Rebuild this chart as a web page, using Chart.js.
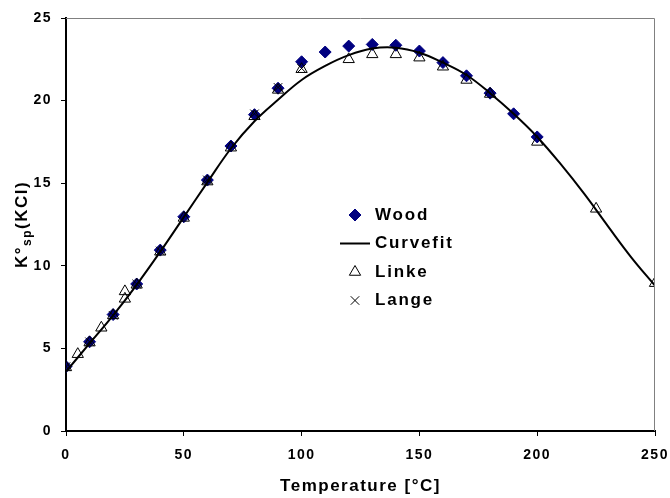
<!DOCTYPE html>
<html>
<head>
<meta charset="utf-8">
<script src="https://cdn.jsdelivr.net/npm/chart.js@4.4.1/dist/chart.umd.min.js"></script>
<style>
    body { margin: 0; background: #fff; }
    #wrap { width: 670px; height: 498px; }
</style>
</head>
<body>
<div id="wrap"><canvas id="chart" width="670" height="498"></canvas></div>
<script>
// Wood data (diamonds)
const woodT = [0, 10, 20, 30, 40, 50, 60, 70, 80, 90, 100, 110, 120, 130, 140, 150, 160, 170, 180, 190, 200];
const woodK = [3.9, 5.4, 7.05, 8.9, 10.95, 12.97, 15.19, 17.25, 19.15, 20.75, 22.35, 22.94, 23.3, 23.4, 23.35, 23.0, 22.3, 21.5, 20.45, 19.2, 17.8];

// Curvefit (solid line)
const fitT = [0, 10, 20, 30, 40, 50, 60, 70, 80, 90, 100, 110, 120, 130, 140, 150, 160, 170, 180, 190, 200, 210, 220, 230, 240, 250];
const fitK = [3.6, 5.3, 7.0, 8.85, 10.85, 12.95, 15.05, 17.1, 18.75, 20.05, 21.25, 22.1, 22.75, 23.15, 23.2, 22.9, 22.3, 21.55, 20.45, 19.2, 17.8, 16.15, 14.35, 12.4, 10.5, 8.8];

// Linke data (open triangles)
const linkeT = [0, 5, 10, 15, 20, 25, 25, 30, 40, 50, 60, 70, 80, 90, 100, 120, 130, 140, 150, 160, 170, 180, 200, 225, 250];
const linkeK = [3.85, 4.65, 5.35, 6.25, 7.0, 8.0, 8.45, 8.85, 10.85, 12.9, 15.1, 17.15, 19.05, 20.65, 21.9, 22.5, 22.8, 22.8, 22.6, 22.05, 21.25, 20.4, 17.5, 13.45, 8.95];

// Lange data (crosses)
const langeT = [0, 10, 20, 30, 40, 60, 80, 90, 100];
const langeK = [3.9, 5.4, 7.0, 8.9, 10.9, 15.2, 19.2, 20.8, 21.95];

const xTicks = [0, 50, 100, 150, 200, 250];
const yTicks = [0, 5, 10, 15, 20, 25];

const FONT = '"Liberation Sans", Arial, sans-serif';
const pts = (xs, ys) => xs.map((x, i) => ({ x: x, y: ys[i] }));

// Letter spacing for all text drawn on the canvas
const spacingPlugin = {
    id: 'spacing',
    beforeLayout(chart) { chart.ctx.letterSpacing = '1.5px'; },
    beforeDraw(chart) { chart.ctx.letterSpacing = '1.5px'; }
};

// Thin grey top and right frame
const framePlugin = {
    id: 'frame',
    afterDraw(chart) {
        const { ctx, chartArea: a } = chart;
        ctx.save();
        ctx.strokeStyle = '#808080';
        ctx.lineWidth = 1;
        ctx.beginPath();
        ctx.moveTo(a.left, a.top + 0.5);
        ctx.lineTo(a.right - 0.5, a.top + 0.5);
        ctx.lineTo(a.right - 0.5, a.bottom);
        ctx.stroke();
        ctx.restore();
    }
};

function marker(ctx, ds, x, y) {
    const opts = {
        pointStyle: ds.pointStyle,
        radius: ds.pointRadius,
        rotation: 0,
        borderWidth: ds.pointBorderWidth
    };
    ctx.fillStyle = ds.pointBackgroundColor;
    ctx.strokeStyle = ds.pointBorderColor;
    ctx.lineWidth = ds.pointBorderWidth;
    Chart.helpers.drawPoint(ctx, opts, x, y);
}

// Legend inside the plot
const legendPlugin = {
    id: 'innerLegend',
    afterDraw(chart) {
        const { ctx, chartArea: a } = chart;
        const symX = a.left + 289;
        const textX = a.left + 309;
        ctx.save();
        ctx.font = 'bold 17px ' + FONT;
        ctx.letterSpacing = '1.8px';
        ctx.textBaseline = 'middle';
        ctx.textAlign = 'left';
        chart.data.datasets.forEach((ds, i) => {
            const y = a.top + 197 + i * 28.5;
            if (ds.showLine) {
                ctx.strokeStyle = ds.borderColor;
                ctx.lineWidth = ds.borderWidth;
                ctx.beginPath();
                ctx.moveTo(symX - 15, y);
                ctx.lineTo(symX + 15, y);
                ctx.stroke();
            } else {
                marker(ctx, ds, symX, y);
            }
            ctx.fillStyle = '#000';
            ctx.fillText(ds.label, textX, y);
        });
        ctx.restore();
    }
};

// Y axis title with subscript: K°sp(KCl)
const yTitlePlugin = {
    id: 'yTitle',
    afterDraw(chart) {
        const { ctx, chartArea: a } = chart;
        const parts = [
            { t: 'K°', size: 17, dy: 0 },
            { t: 'sp', size: 12, dy: 4 },
            { t: '(KCl)', size: 17, dy: 0 }
        ];
        ctx.save();
        ctx.letterSpacing = '1.5px';
        ctx.fillStyle = '#000';
        ctx.textBaseline = 'alphabetic';
        ctx.textAlign = 'left';
        let total = 0;
        parts.forEach(p => {
            ctx.font = 'bold ' + p.size + 'px ' + FONT;
            p.w = ctx.measureText(p.t).width;
            total += p.w;
        });
        const cy = (a.top + a.bottom) / 2;
        ctx.translate(27, cy + total / 2);
        ctx.rotate(-Math.PI / 2);
        let x = 0;
        parts.forEach(p => {
            ctx.font = 'bold ' + p.size + 'px ' + FONT;
            ctx.fillText(p.t, x, p.dy);
            x += p.w;
        });
        ctx.restore();
    }
};

const tickFont = { family: FONT, size: 14, weight: 'bold' };

new Chart(document.getElementById('chart'), {
    type: 'scatter',
    data: {
        datasets: [
            {
                label: 'Wood',
                data: pts(woodT, woodK),
                showLine: false,
                pointStyle: 'rectRot',
                pointRadius: 6,
                pointBackgroundColor: '#000080',
                pointBorderColor: '#000080',
                pointBorderWidth: 1,
                order: 4
            },
            {
                label: 'Curvefit',
                data: pts(fitT, fitK),
                showLine: true,
                borderColor: '#000',
                borderWidth: 2,
                tension: 0.4,
                pointRadius: 0,
                order: 3
            },
            {
                label: 'Linke',
                data: pts(linkeT, linkeK),
                showLine: false,
                pointStyle: 'triangle',
                pointRadius: 6.5,
                pointBackgroundColor: 'rgba(0,0,0,0)',
                pointBorderColor: '#000',
                pointBorderWidth: 1,
                order: 2
            },
            {
                label: 'Lange',
                data: pts(langeT, langeK),
                showLine: false,
                pointStyle: 'crossRot',
                pointRadius: 6,
                pointBackgroundColor: '#000',
                pointBorderColor: '#000',
                pointBorderWidth: 1,
                order: 1
            }
        ]
    },
    options: {
        responsive: false,
        devicePixelRatio: 1,
        animation: false,
        layout: { padding: { left: 0, top: 18, right: 15, bottom: 0 } },
        plugins: {
            legend: { display: false },
            tooltip: { enabled: false }
        },
        scales: {
            x: {
                type: 'linear',
                min: 0,
                max: 250,
                afterBuildTicks: s => { s.ticks = xTicks.map(v => ({ value: v })); },
                afterFit: s => { s.height = 67; s.paddingLeft = 0; s.paddingRight = 0; },
                ticks: { color: '#000', font: tickFont, padding: 11, maxRotation: 0 },
                grid: { drawOnChartArea: false, drawTicks: true, tickLength: 5, color: '#000', tickWidth: 1 },
                border: { display: true, color: '#000', width: 2 },
                title: {
                    display: true,
                    text: 'Temperature [°C]',
                    color: '#000',
                    font: { family: FONT, size: 17, weight: 'bold' },
                    padding: { top: 0, bottom: 1 }
                }
            },
            y: {
                min: 0,
                max: 25,
                afterBuildTicks: s => { s.ticks = yTicks.map(v => ({ value: v })); },
                afterFit: s => { s.width = 66; s.paddingTop = 0; s.paddingBottom = 0; },
                ticks: { color: '#000', font: tickFont, padding: 9 },
                grid: { drawOnChartArea: false, drawTicks: true, tickLength: 5, color: '#000', tickWidth: 1 },
                border: { display: true, color: '#000', width: 2 }
            }
        }
    },
    plugins: [spacingPlugin, framePlugin, legendPlugin, yTitlePlugin]
});
</script>
</body>
</html>
